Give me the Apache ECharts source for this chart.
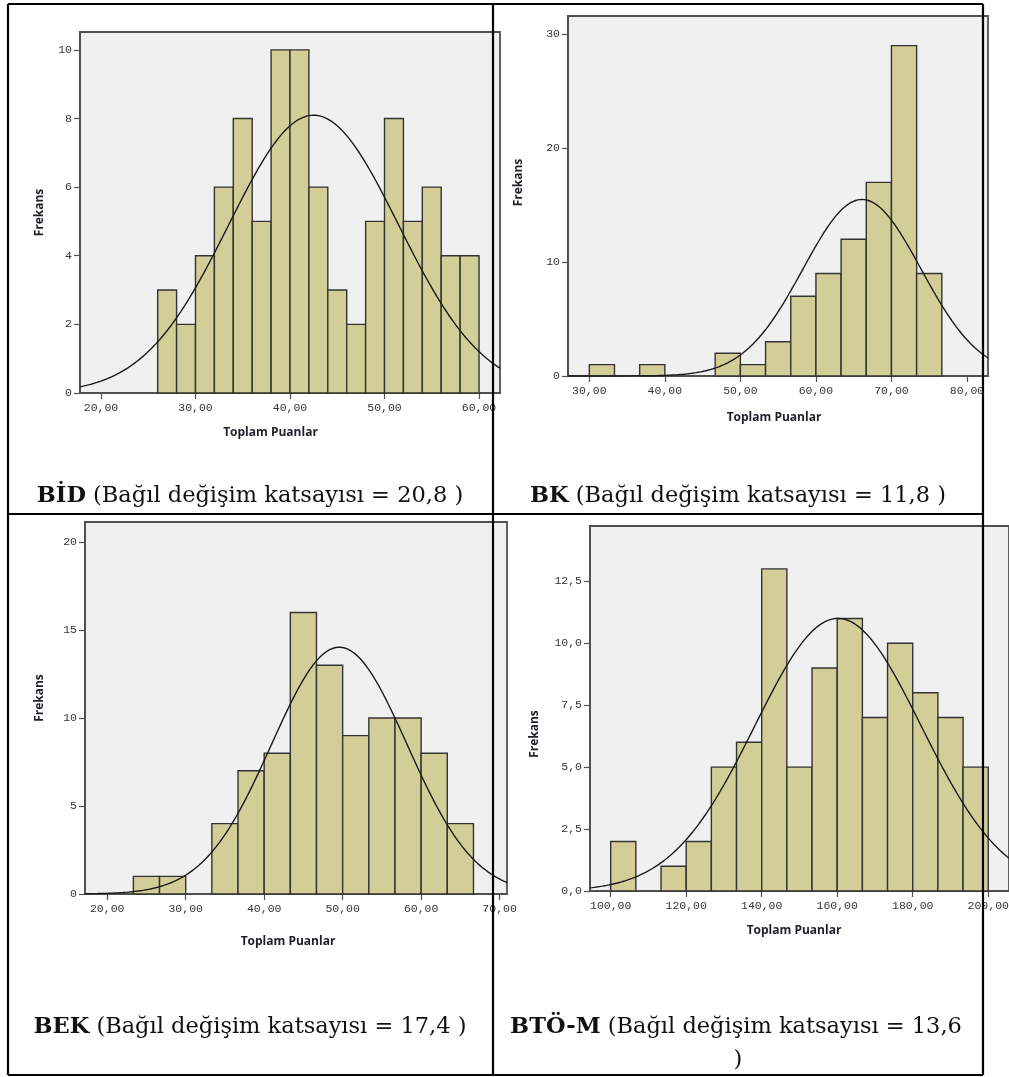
<!DOCTYPE html>
<html>
<head>
<meta charset="utf-8">
<script src="https://cdn.jsdelivr.net/npm/echarts@6/dist/echarts.min.js"></script>
<style>
html,body{margin:0;padding:0;background:#fff;}
#c{width:1009px;height:1077px;}
</style>
</head>
<body>
<div id="c"></div>
<script>
// ---- Data ----
// BİD
const bidStart = 26, bidWidth = 2;
const bidCounts = [3, 2, 4, 6, 8, 5, 10, 10, 6, 3, 2, 5, 8, 5, 6, 4, 4];
const bidMean = 42.5, bidSd = 8.97;
const bidXTicks = [20, 30, 40, 50, 60];
const bidYTicks = [0, 2, 4, 6, 8, 10];
// BK
const bkStart = 30, bkWidth = 10 / 3;
const bkCounts = [1, 0, 1, 0, 0, 2, 1, 3, 7, 9, 12, 17, 29, 9];
const bkMean = 66.1, bkSd = 7.81;
const bkXTicks = [30, 40, 50, 60, 70, 80];
const bkYTicks = [0, 10, 20, 30];
// BEK
const bekStart = 70 / 3, bekWidth = 10 / 3;
const bekCounts = [1, 1, 0, 4, 7, 8, 16, 13, 9, 10, 10, 8, 4];
const bekMean = 49.57, bekSd = 8.63;
const bekXTicks = [20, 30, 40, 50, 60, 70];
const bekYTicks = [0, 5, 10, 15, 20];
// BTÖ-M
const btoStart = 100, btoWidth = 20 / 3;
const btoCounts = [2, 0, 1, 2, 5, 6, 13, 5, 9, 11, 7, 10, 8, 7, 5];
const btoMean = 160.2, btoSd = 22.0;
const btoXTicks = [100, 120, 140, 160, 180, 200];
const btoYTicks = [0, 2.5, 5, 7.5, 10, 12.5];

const captions = [
  ['BİD', ' (Bağıl değişim katsayısı = 20,8 )'],
  ['BK', ' (Bağıl değişim katsayısı = 11,8 )'],
  ['BEK', ' (Bağıl değişim katsayısı = 17,4 )'],
  ['BTÖ-M', ' (Bağıl değişim katsayısı = 13,6']
];
const xName = 'Toplam Puanlar';
const yName = 'Frekans';

// ---- Build ----
function bins(start, w, counts) {
  const out = [];
  counts.forEach((c, i) => { if (c > 0) out.push([start + i * w, start + (i + 1) * w, c]); });
  return out;
}
function normalCurve(mean, sd, n, w, xmin, xmax) {
  const pts = [];
  const steps = 200;
  for (let i = 0; i <= steps; i++) {
    const x = xmin + (xmax - xmin) * i / steps;
    const z = (x - mean) / sd;
    pts.push([x, n * w / (sd * Math.sqrt(2 * Math.PI)) * Math.exp(-0.5 * z * z)]);
  }
  return pts;
}
const sum = a => a.reduce((s, v) => s + v, 0);

const panels = [
  {grid: {left: 80, top: 32, width: 420, height: 361}, xmin: 17.78, xmax: 62.22, ymax: 10.52,
   start: bidStart, w: bidWidth, counts: bidCounts, mean: bidMean, sd: bidSd, xt: bidXTicks, yt: bidYTicks, yd: 0},
  {grid: {left: 568, top: 16, width: 420, height: 360}, xmin: 27.18, xmax: 82.78, ymax: 31.6,
   start: bkStart, w: bkWidth, counts: bkCounts, mean: bkMean, sd: bkSd, xt: bkXTicks, yt: bkYTicks, yd: 0},
  {grid: {left: 85, top: 522, width: 422, height: 372}, xmin: 17.17, xmax: 70.94, ymax: 21.14,
   start: bekStart, w: bekWidth, counts: bekCounts, mean: bekMean, sd: bekSd, xt: bekXTicks, yt: bekYTicks, yd: 0},
  {grid: {left: 590, top: 526, width: 419, height: 365}, xmin: 94.52, xmax: 205.5, ymax: 14.73,
   start: btoStart, w: btoWidth, counts: btoCounts, mean: btoMean, sd: btoSd, xt: btoXTicks, yt: btoYTicks, yd: 1}
];

const tickFont = {fontFamily: 'Liberation Mono', fontSize: 11.5, color: '#333'};
const frameColor = '#505050';

const option = {
  animation: false,
  backgroundColor: '#ffffff',
  grid: [], xAxis: [], yAxis: [], series: [], graphic: []
};

panels.forEach((p, i) => {
  option.grid.push(Object.assign({
    show: true, backgroundColor: '#f0f0f0', borderColor: frameColor, borderWidth: 1.8,
    containLabel: false, outerBoundsMode: 'none'
  }, p.grid));
  option.xAxis.push({
    type: 'value', gridIndex: i, min: p.xmin, max: p.xmax,
    axisLine: {show: true, onZero: false, lineStyle: {color: frameColor, width: 1.8}},
    axisTick: {show: true, length: 6, customValues: p.xt, lineStyle: {color: frameColor, width: 1.2}},
    axisLabel: Object.assign({margin: 9, customValues: p.xt, showMinLabel: true, showMaxLabel: true,
      formatter: v => v.toFixed(2).replace('.', ',')}, tickFont),
    splitLine: {show: false}
  });
  option.yAxis.push({
    type: 'value', gridIndex: i, min: 0, max: p.ymax,
    axisLine: {show: true, lineStyle: {color: frameColor, width: 1.8}},
    axisTick: {show: true, length: 6, customValues: p.yt, lineStyle: {color: frameColor, width: 1.2}},
    axisLabel: Object.assign({margin: 8, customValues: p.yt,
      formatter: v => v.toFixed(p.yd).replace('.', ',')}, tickFont),
    splitLine: {show: false}
  });
  option.series.push({
    type: 'custom', xAxisIndex: i, yAxisIndex: i,
    data: bins(p.start, p.w, p.counts),
    encode: {x: [0, 1], y: 2},
    renderItem: (params, api) => {
      const a = api.coord([api.value(0), api.value(2)]);
      const b = api.coord([api.value(1), 0]);
      return {type: 'rect', shape: {x: a[0], y: a[1], width: b[0] - a[0], height: b[1] - a[1]},
        style: {fill: '#d3ce97', stroke: '#333', lineWidth: 1.4}};
    },
    z: 2
  });
  option.series.push({
    type: 'line', xAxisIndex: i, yAxisIndex: i, showSymbol: false, smooth: false,
    data: normalCurve(p.mean, p.sd, sum(p.counts), p.w, p.xmin, p.xmax),
    lineStyle: {color: '#1a1a1a', width: 1.4}, z: 3, clip: true
  });
});

// axis titles
const nameStyle = {fontFamily: 'Open Sans', fontWeight: 'bold', fontSize: 12, fill: '#1e1e28'};
const yNamePos = [[40, 212.5], [519, 182.5], [40, 698], [535, 734]];
const xNamePos = [[270.5, 433], [774, 418], [288, 941.5], [794, 931]];
yNamePos.forEach(pt => option.graphic.push({type: 'text', x: pt[0], y: pt[1], rotation: Math.PI / 2, z: 50,
  style: Object.assign({text: yName, align: 'center', verticalAlign: 'middle'}, nameStyle)}));
xNamePos.forEach(pt => option.graphic.push({type: 'text', x: pt[0], y: pt[1], z: 50,
  style: Object.assign({text: xName, align: 'center', verticalAlign: 'middle'}, nameStyle)}));

// captions
const capSize = 22.5;
const capStyle = {fontFamily: 'DejaVu Serif', fontSize: capSize, fill: '#111'};
const capPos = [[250, 496], [738, 496], [250, 1027], [736, 1027]];
captions.forEach((c, i) => option.graphic.push({type: 'text', x: capPos[i][0], y: capPos[i][1], z: 50,
  style: Object.assign({text: '{b|' + c[0] + '}' + c[1], align: 'center', verticalAlign: 'middle',
    rich: {b: {fontFamily: 'DejaVu Serif', fontWeight: 'bold', fontSize: capSize, fill: '#111'}}}, capStyle)}));
option.graphic.push({type: 'text', x: 738, y: 1060, z: 50,
  style: Object.assign({text: ')', align: 'center', verticalAlign: 'middle'}, capStyle)});

// table lines
const lw = 2.2;
const lines = [
  [8, 4, 983, 4], [8, 1075, 983, 1075], [8, 514, 983, 514],
  [8, 4, 8, 1075], [493, 4, 493, 1075], [983, 4, 983, 1075]
];
lines.forEach(l => option.graphic.push({type: 'line', z: 100,
  shape: {x1: l[0], y1: l[1], x2: l[2], y2: l[3]}, style: {stroke: '#000', lineWidth: lw}}));

const chart = echarts.init(document.getElementById('c'), null, {renderer: 'canvas'});
chart.setOption(option);
</script>
</body>
</html>
